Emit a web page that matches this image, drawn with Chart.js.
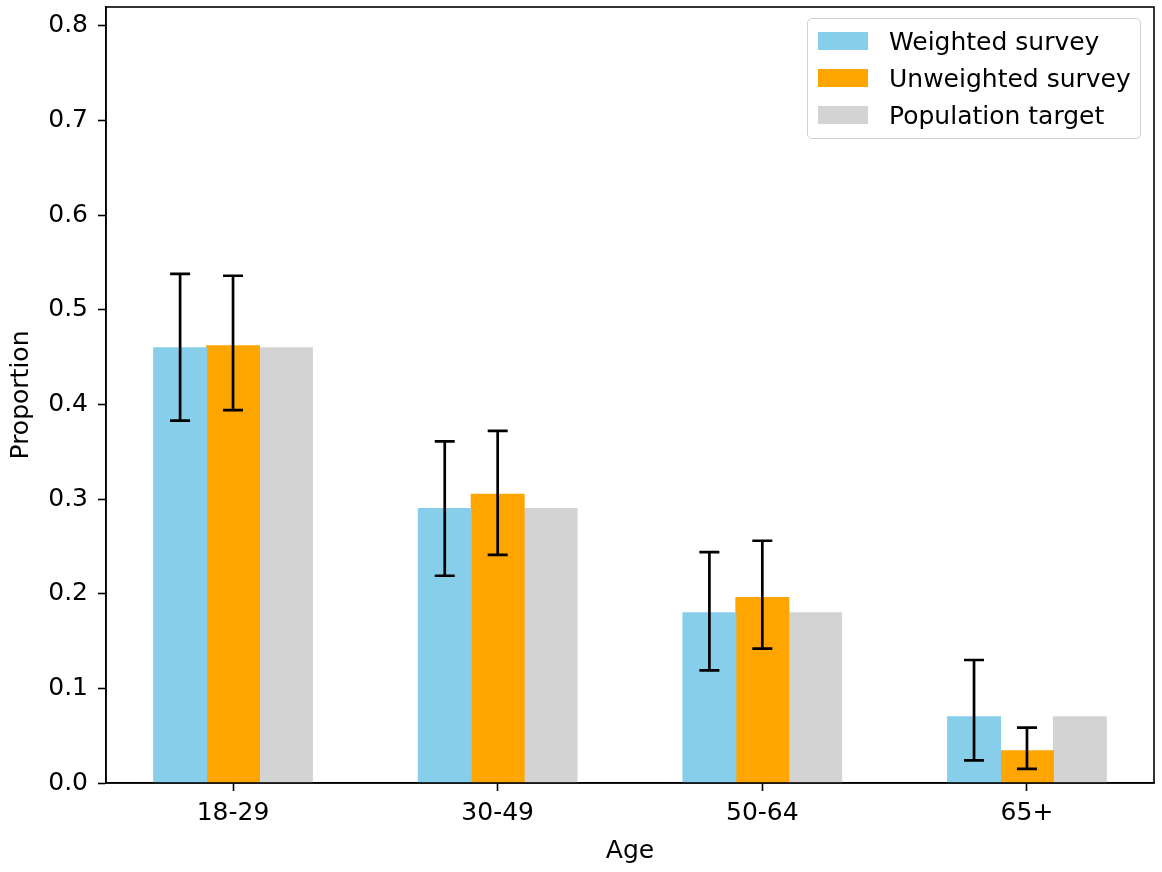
<!DOCTYPE html>
<html>
<head>
<meta charset="utf-8">
<script src="https://cdn.jsdelivr.net/npm/chart.js@4.4.0/dist/chart.umd.min.js"></script>
<style>
  body { margin: 0; background: #fff; }
  #wrap { position: relative; width: 1162px; height: 872px; }
  #legend {
    position: absolute; left: 807px; top: 18px; width: 332px; height: 119px;
    border: 1.5px solid #d0d0d0; border-radius: 5px; background: rgba(255,255,255,0.8);
    font-family: "DejaVu Sans", sans-serif; font-size: 25px; color: #000;
  }
  .row { position: absolute; left: 10px; height: 30px; display: flex; align-items: center; white-space: nowrap; }
  .sw { width: 50px; height: 18px; margin-right: 21px; }
</style>
</head>
<body>
<div id="wrap">
  <canvas id="bar-chart" width="1162" height="872"></canvas>
  <div id="legend"></div>
</div>
<script>
var ageGroups = ['18-29', '30-49', '50-64', '65+'];
var weighted = [0.46, 0.29, 0.18, 0.07];
var weightedLo = [0.383, 0.219, 0.119, 0.024];
var weightedHi = [0.538, 0.361, 0.244, 0.130];
var unweighted = [0.462, 0.305, 0.196, 0.034];
var unweightedLo = [0.394, 0.241, 0.142, 0.015];
var unweightedHi = [0.536, 0.372, 0.256, 0.0585];
var population = [0.46, 0.29, 0.18, 0.07];
var yTicks = [0, 0.1, 0.2, 0.3, 0.4, 0.5, 0.6, 0.7, 0.8];

var font = "'DejaVu Sans', sans-serif";
var fontSize = 25;

function points(vals) {
  return vals.map(function(v, i) { return { x: i, y: v }; });
}

// error bars drawn from the bar elements and the y scale
var errorBars = {
  id: 'errorBars',
  afterDatasetsDraw: function(chart) {
    var ctx = chart.ctx;
    var yScale = chart.scales.y;
    chart.data.datasets.forEach(function(ds, di) {
      if (!ds.errLo) return;
      var meta = chart.getDatasetMeta(di);
      meta.data.forEach(function(bar, i) {
        var top = yScale.getPixelForValue(ds.errHi[i]);
        var bot = yScale.getPixelForValue(ds.errLo[i]);
        ctx.save();
        ctx.strokeStyle = '#000';
        ctx.lineWidth = 2.7;
        ctx.beginPath();
        ctx.moveTo(bar.x, top); ctx.lineTo(bar.x, bot);
        ctx.moveTo(bar.x - 10, top); ctx.lineTo(bar.x + 10, top);
        ctx.moveTo(bar.x - 10, bot); ctx.lineTo(bar.x + 10, bot);
        ctx.stroke();
        ctx.restore();
      });
    });
  }
};

// top and right spines
var frame = {
  id: 'frame',
  afterDraw: function(chart) {
    var a = chart.chartArea, ctx = chart.ctx;
    ctx.save();
    ctx.strokeStyle = '#000';
    ctx.lineWidth = 1.6;
    ctx.strokeRect(a.left, a.top, a.right - a.left, a.bottom - a.top);
    ctx.restore();
  }
};

var config = {
  type: 'bar',
  data: {
    datasets: [{
      label: 'Weighted survey',
      data: points(weighted),
      backgroundColor: '#87CEEB',
      errLo: weightedLo, errHi: weightedHi
    }, {
      label: 'Unweighted survey',
      data: points(unweighted),
      backgroundColor: '#FFA500',
      errLo: unweightedLo, errHi: unweightedHi
    }, {
      label: 'Population target',
      data: points(population),
      backgroundColor: '#D3D3D3'
    }]
  },
  options: {
    responsive: false,
    animation: false,
    layout: { padding: { top: 7, right: 8, left: 0, bottom: 0 } },
    datasets: { bar: { categoryPercentage: 0.6, barPercentage: 1.0, inflateAmount: 0.5 } },
    plugins: { legend: { display: false }, tooltip: { enabled: false } },
    scales: {
      x: {
        type: 'linear',
        min: -0.48, max: 3.48,
        offset: false,
        afterBuildTicks: function(s) {
          s.ticks = ageGroups.map(function(l, i) { return { value: i }; });
        },
        afterFit: function(s) { s.height = 89; s.paddingLeft = 0; s.paddingRight = 0; },
        grid: { offset: false, drawOnChartArea: false, drawTicks: true, tickLength: 8, tickWidth: 1.6, tickColor: '#000' },
        border: { display: true, color: '#000', width: 1.6 },
        ticks: {
          color: '#000', font: { family: font, size: fontSize }, padding: 7,
          maxRotation: 0,
          callback: function(v) { return ageGroups[v]; }
        },
        title: { display: true, text: 'Age', color: '#000', font: { family: font, size: fontSize }, padding: { top: 0, bottom: 6 } }
      },
      y: {
        min: 0, max: 0.82,
        afterBuildTicks: function(s) {
          s.ticks = yTicks.map(function(v) { return { value: v }; });
        },
        afterFit: function(s) { s.width = 106; s.paddingTop = 0; s.paddingBottom = 0; },
        grid: { drawOnChartArea: false, drawTicks: true, tickLength: 8, tickWidth: 1.6, tickColor: '#000' },
        border: { display: true, color: '#000', width: 1.6 },
        ticks: {
          color: '#000', font: { family: font, size: fontSize }, padding: 10,
          callback: function(v) { return v.toFixed(1); }
        },
        title: { display: true, text: 'Proportion', color: '#000', font: { family: font, size: fontSize }, padding: { top: 6, bottom: 0 } }
      }
    }
  },
  plugins: [errorBars, frame]
};

var ctx = document.getElementById('bar-chart').getContext('2d');
var mychart = new Chart(ctx, config);

// legend as html text
var legend = document.getElementById('legend');
config.data.datasets.forEach(function(ds, i) {
  var row = document.createElement('div');
  row.className = 'row';
  row.style.top = (7 + i * 37) + 'px';
  row.innerHTML = '<div class="sw" style="background:' + ds.backgroundColor + '"></div><span>' + ds.label + '</span>';
  legend.appendChild(row);
});
</script>
</body>
</html>
